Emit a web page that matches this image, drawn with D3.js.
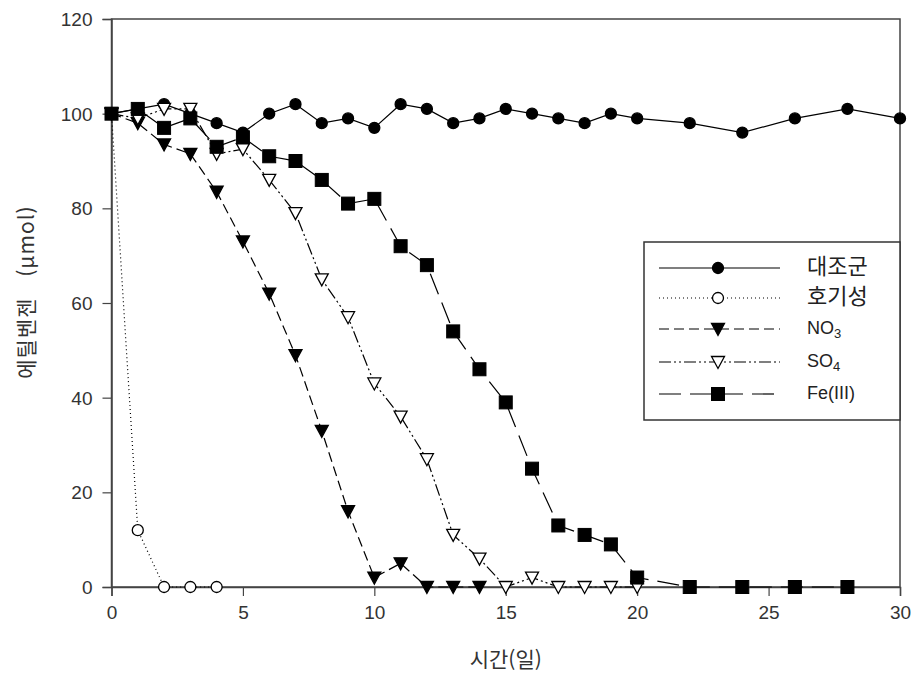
<!DOCTYPE html>
<html lang="ko">
<head>
<meta charset="utf-8">
<style>
  body { margin: 0; background: #fff; }
  svg { display: block; }
  .tick text { font-family: "Liberation Sans", Arial, sans-serif; font-size: 19px; fill: #333; }
  .axis-title { font-family: "Noto Sans CJK KR", sans-serif; font-size: 21px; fill: #333; }
  .legend text { font-family: "Liberation Sans", Arial, sans-serif; font-size: 18px; fill: #222; }
  .legend text.kr { font-family: "Noto Sans CJK KR", sans-serif; font-size: 22px; }
</style>
</head>
<body>
<div id="chart"></div>
<script src="https://cdn.jsdelivr.net/npm/d3@7"></script>
<script>
// data (day, µmol)
var controlDays = [0, 1, 2, 3, 4, 5, 6, 7, 8, 9, 10, 11, 12, 13, 14, 15, 16, 17, 18, 19, 20, 22, 24, 26, 28, 30];
var controlVals = [100, 101, 102, 100, 98, 96, 100, 102, 98, 99, 97, 102, 101, 98, 99, 101, 100, 99, 98, 100, 99, 98, 96, 99, 101, 99];

var aerobicDays = [0, 1, 2, 3, 4];
var aerobicVals = [100, 12, 0, 0, 0];

var no3Days = [0, 1, 2, 3, 4, 5, 6, 7, 8, 9, 10, 11, 12, 13, 14];
var no3Vals = [100, 98, 93.5, 91.5, 83.5, 73, 62, 49, 33, 16, 2, 5, 0, 0, 0];

var so4Days = [0, 1, 2, 3, 4, 5, 6, 7, 8, 9, 10, 11, 12, 13, 14, 15, 16, 17, 18, 19, 20];
var so4Vals = [100, 99, 101, 101, 91.5, 92.5, 86, 79, 65, 57, 43, 36, 27, 11, 6, 0, 2, 0, 0, 0, 0];

var feDays = [0, 1, 2, 3, 4, 5, 6, 7, 8, 9, 10, 11, 12, 13, 14, 15, 16, 17, 18, 19, 20, 22, 24, 26, 28];
var feVals = [100, 101, 97, 99, 93, 95, 91, 90, 86, 81, 82, 72, 68, 54, 46, 39, 25, 13, 11, 9, 2, 0, 0, 0, 0];

var xTicks = [0, 5, 10, 15, 20, 25, 30];
var yTicks = [0, 20, 40, 60, 80, 100, 120];

var series = [
  { name: "대조군", days: controlDays, vals: controlVals, marker: "circle", fill: "#000", dash: null },
  { name: "호기성", days: aerobicDays, vals: aerobicVals, marker: "circle", fill: "#fff", dash: "1,3" },
  { name: "NO3", sub: "3", days: no3Days, vals: no3Vals, marker: "tri", fill: "#000", dash: "10,5" },
  { name: "SO4", sub: "4", days: so4Days, vals: so4Vals, marker: "tri", fill: "#fff", dash: "12,3,2,3,2,3" },
  { name: "Fe(III)", days: feDays, vals: feVals, marker: "square", fill: "#000", dash: "22,9" }
];

var W = 916, H = 684;
var margin = { top: 19, right: 16, bottom: 97, left: 111.5 };
var width = W - margin.left - margin.right,
    height = H - margin.top - margin.bottom;

var svg = d3.select("#chart").append("svg")
    .attr("width", W)
    .attr("height", H);

var g = svg.append("g").attr("transform", "translate(" + margin.left + "," + margin.top + ")");

var x = d3.scaleLinear().domain([0, 30]).range([0, width]);
var y = d3.scaleLinear().domain([0, 120]).range([height, 0]);

// frame
g.append("rect")
    .attr("width", width).attr("height", height)
    .attr("fill", "none").attr("stroke", "#444").attr("stroke-width", 1.5);

var xAxis = g.append("g")
    .attr("transform", "translate(0," + height + ")")
    .call(d3.axisBottom(x).tickValues(xTicks).tickSize(9).tickPadding(10));
var yAxis = g.append("g")
    .call(d3.axisLeft(y).tickValues(yTicks).tickSize(9).tickPadding(10));
[xAxis, yAxis].forEach(function (a) {
  a.select(".domain").attr("stroke", "#444").attr("stroke-width", 1.5);
  a.selectAll(".tick line").attr("stroke", "#444").attr("stroke-width", 1.2);
});
yAxis.selectAll(".tick text").attr("dy", "0.35em");

// axis titles
svg.append("text")
    .attr("class", "axis-title")
    .attr("x", margin.left + x(15))
    .attr("y", 661)
    .attr("text-anchor", "middle")
    .attr("dominant-baseline", "middle")
    .text("시간(일)");

svg.append("text")
    .attr("class", "axis-title")
    .attr("transform", "translate(28,292) rotate(-90)")
    .attr("text-anchor", "middle")
    .attr("dominant-baseline", "middle")
    .attr("letter-spacing", "1px")
    .style("white-space", "pre")
    .text("에틸벤젠   (μmol)");

function drawMarker(sel, type, fill) {
  if (type === "circle") {
    sel.append("circle").attr("r", 5.5)
      .attr("fill", fill).attr("stroke", "#000").attr("stroke-width", 1.3);
  } else if (type === "square") {
    sel.append("rect").attr("x", -6.5).attr("y", -6.5).attr("width", 13).attr("height", 13)
      .attr("fill", fill).attr("stroke", "#000").attr("stroke-width", 1);
  } else {
    sel.append("path").attr("d", "M-6.5,-5.5L6.5,-5.5L0,6.5Z")
      .attr("fill", fill).attr("stroke", "#000").attr("stroke-width", 1.3);
  }
}

var line = d3.line()
    .x(function (d) { return x(d[0]); })
    .y(function (d) { return y(d[1]); });

series.forEach(function (s) {
  var pts = s.days.map(function (d, i) { return [d, s.vals[i]]; });
  g.append("path")
      .datum(pts)
      .attr("d", line)
      .attr("fill", "none")
      .attr("stroke", "#000")
      .attr("stroke-width", 1.2)
      .attr("stroke-dasharray", s.dash);
  g.selectAll(null)
      .data(pts)
      .enter().append("g")
      .attr("transform", function (d) { return "translate(" + x(d[0]) + "," + y(d[1]) + ")"; })
      .each(function () { drawMarker(d3.select(this), s.marker, s.fill); });
});

// legend
var leg = svg.append("g").attr("class", "legend");
leg.append("rect")
    .attr("x", 644).attr("y", 242).attr("width", 256).attr("height", 178)
    .attr("fill", "#fff").attr("stroke", "#333").attr("stroke-width", 1.5);

var rowY = [268, 298, 329, 362, 394];
series.forEach(function (s, i) {
  var r = leg.append("g").attr("transform", "translate(0," + rowY[i] + ")");
  r.append("line")
      .attr("x1", 659).attr("x2", 780)
      .attr("stroke", "#000").attr("stroke-width", 1.2)
      .attr("stroke-dasharray", s.dash);
  drawMarker(r.append("g").attr("transform", "translate(718,0)"), s.marker, s.fill);
  var t = r.append("text").attr("x", 807).attr("dominant-baseline", "middle");
  if (s.sub) {
    t.text(s.name.slice(0, 2));
    t.append("tspan").attr("dy", 6).attr("font-size", "13px").text(s.sub);
  } else {
    t.text(s.name);
    if (i < 2) t.attr("class", "kr");
  }
});
</script>
</body>
</html>
